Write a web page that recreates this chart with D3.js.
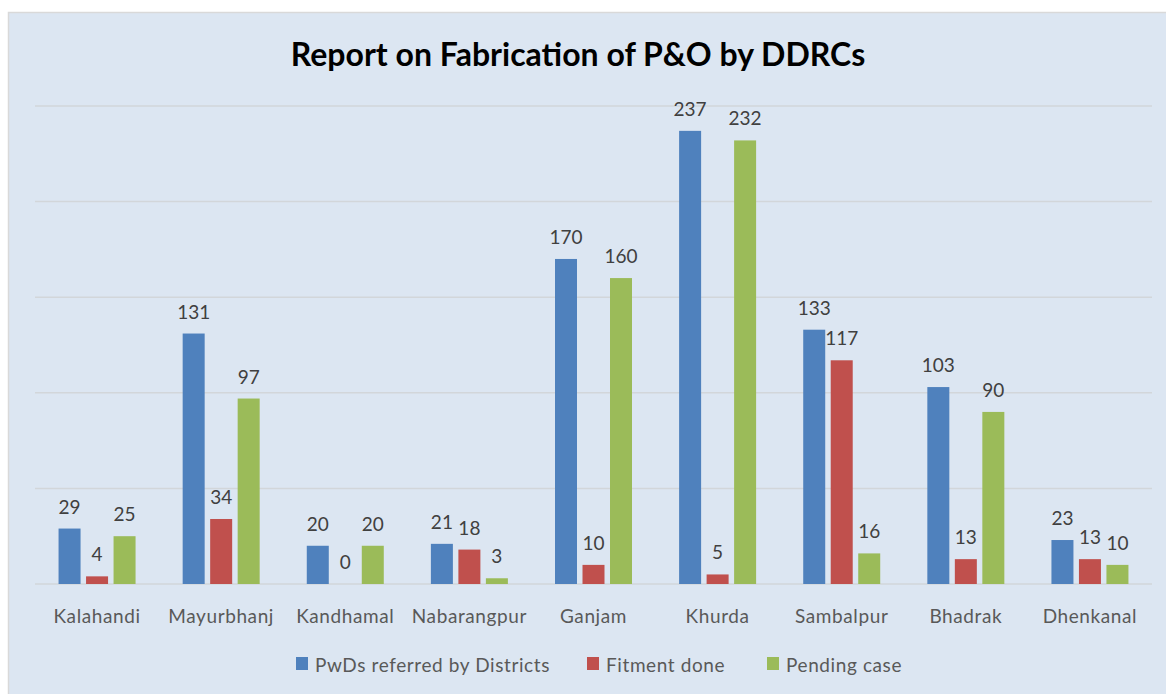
<!DOCTYPE html>
<html>
<head>
<meta charset="utf-8">
<script src="https://cdn.jsdelivr.net/npm/d3@7"></script>
<style>
  html, body { margin: 0; padding: 0; background: #fff; }
  svg { display: block; font-family: Lato, "Open Sans", sans-serif; }
</style>
</head>
<body>
<div id="chart"></div>
<script>
// Chart data
const districts = ['Kalahandi', 'Mayurbhanj', 'Kandhamal', 'Nabarangpur', 'Ganjam',
                   'Khurda', 'Sambalpur', 'Bhadrak', 'Dhenkanal'];
const referred = [29, 131, 20, 21, 170, 237, 133, 103, 23];
const fitment  = [4, 34, 0, 18, 10, 5, 117, 13, 13];
const pending  = [25, 97, 20, 3, 160, 232, 16, 90, 10];
const seriesNames = ['PwDs referred by Districts', 'Fitment done', 'Pending case'];
const yTicks = [0, 50, 100, 150, 200, 250];

const COLORS = ['#4f81bd', '#c0504d', '#9bbb59'];
const WIDTH = 1166, HEIGHT = 694;
const PLOT = { left: 35, right: 1152, top: 106, bottom: 584 };

const svg = d3.select('#chart')
  .append('svg')
  .attr('width', WIDTH)
  .attr('height', HEIGHT);

// Chart area with thin border on top/left
svg.append('rect')
  .attr('x', 8.5).attr('y', 12.5)
  .attr('width', WIDTH).attr('height', HEIGHT)
  .attr('fill', '#dce6f2')
  .attr('stroke', '#d9d9d9')
  .attr('stroke-width', 1.5);

const x0 = d3.scaleBand().domain(districts).range([PLOT.left, PLOT.right]);
const x1 = d3.scaleBand().domain(d3.range(3)).range([0, 77]).paddingInner(0.2);
const y = d3.scaleLinear().domain([0, 250]).range([PLOT.bottom, PLOT.top]);

// Gridlines
svg.append('g')
  .selectAll('line')
  .data(yTicks)
  .join('line')
  .attr('x1', PLOT.left).attr('x2', PLOT.right)
  .attr('y1', d => y(d)).attr('y2', d => y(d))
  .attr('stroke', '#d2d6da')
  .attr('stroke-width', 1.5);

// Title
svg.append('text')
  .attr('x', 578).attr('y', 66)
  .attr('text-anchor', 'middle')
  .attr('font-size', '32px').attr('font-weight', 'bold')
  .attr('fill', '#000')
  .text('Report on Fabrication of P&O by DDRCs');

// Bars
const series = [referred, fitment, pending];
const groups = svg.append('g')
  .selectAll('g')
  .data(districts)
  .join('g')
  .attr('transform', d => `translate(${x0(d) + x0.bandwidth() / 2 - 38.5},0)`);

groups.selectAll('rect')
  .data((d, i) => series.map((s, k) => ({ k, v: s[i] })))
  .join('rect')
  .attr('x', d => x1(d.k))
  .attr('width', x1.bandwidth())
  .attr('y', d => y(d.v))
  .attr('height', d => y(0) - y(d.v))
  .attr('fill', d => COLORS[d.k]);

// Data labels
groups.selectAll('text')
  .data((d, i) => series.map((s, k) => ({ k, v: s[i] })))
  .join('text')
  .attr('x', d => x1(d.k) + x1.bandwidth() / 2)
  .attr('y', d => y(d.v) - 15)
  .attr('text-anchor', 'middle')
  .attr('font-size', '19px')
  .attr('fill', '#404040')
  .text(d => d.v);

// Category axis labels
svg.append('g')
  .selectAll('text')
  .data(districts)
  .join('text')
  .attr('x', d => x0(d) + x0.bandwidth() / 2)
  .attr('y', 623)
  .attr('text-anchor', 'middle')
  .attr('font-size', '19px')
  .attr('letter-spacing', '0.6px')
  .attr('fill', '#595959')
  .text(d => d);

// Legend
const legendX = [296, 587, 767];
const legend = svg.append('g')
  .selectAll('g')
  .data(seriesNames)
  .join('g')
  .attr('transform', (d, i) => `translate(${legendX[i]},657)`);

legend.append('rect')
  .attr('width', 12).attr('height', 13)
  .attr('fill', (d, i) => COLORS[i]);

legend.append('text')
  .attr('x', 19).attr('y', 15)
  .attr('font-size', '19px')
  .attr('letter-spacing', '0.6px')
  .attr('fill', '#595959')
  .text(d => d);
</script>
</body>
</html>
